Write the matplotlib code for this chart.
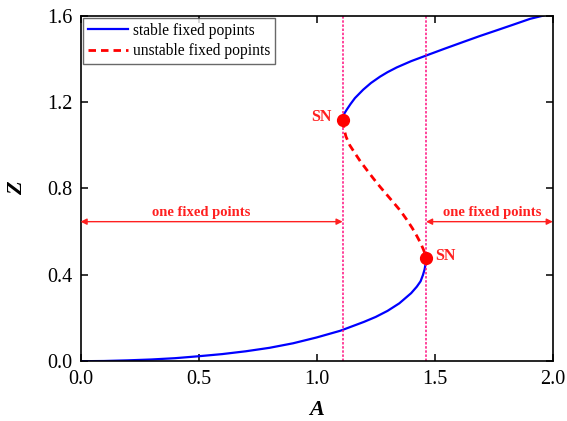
import matplotlib
matplotlib.use("Agg")
import matplotlib.pyplot as plt

plt.rcParams['font.family'] = ['Liberation Serif', 'DejaVu Serif']

# lower stable branch
A_low = [0.0, 0.1, 0.2, 0.3, 0.4, 0.5, 0.6, 0.7, 0.8, 0.9, 1.0, 1.1, 1.2, 1.25,
         1.3, 1.35, 1.4, 1.424, 1.44, 1.45, 1.457, 1.461, 1.463]
Z_low = [0.0, 0.001, 0.004, 0.008, 0.014, 0.023, 0.033, 0.046, 0.062, 0.083, 0.110,
         0.141, 0.182, 0.205, 0.233, 0.268, 0.315, 0.345, 0.370, 0.399, 0.425,
         0.450, 0.476]
# upper stable branch
A_up = [1.110, 1.112, 1.118, 1.127, 1.143, 1.162, 1.197, 1.230, 1.268, 1.300,
        1.339, 1.400, 1.466, 1.540, 1.621, 1.690, 1.763, 1.830, 1.904, 1.960]
Z_up = [1.115, 1.132, 1.148, 1.164, 1.190, 1.218, 1.257, 1.288, 1.317, 1.338,
        1.360, 1.389, 1.416, 1.446, 1.478, 1.505, 1.532, 1.557, 1.585, 1.600]
# unstable branch
A_un = [1.110, 1.116, 1.124, 1.140, 1.162, 1.185, 1.212, 1.240, 1.268, 1.296,
        1.325, 1.355, 1.381, 1.405, 1.424, 1.440, 1.452, 1.459, 1.463]
Z_un = [1.115, 1.075, 1.040, 1.000, 0.963, 0.925, 0.886, 0.846, 0.808, 0.772,
        0.735, 0.696, 0.656, 0.616, 0.580, 0.547, 0.517, 0.497, 0.476]
# saddle-node points
A_sn = [1.110, 1.463]
Z_sn = [1.115, 0.476]

fig = plt.figure(figsize=(5.67, 4.21), dpi=100)
ax = fig.add_axes([0.142, 0.142, 0.833, 0.821])

ax.plot(A_low, Z_low, color='#0000ff', lw=1.6, label='stable fixed popints')
ax.plot(A_up, Z_up, color='#0000ff', lw=1.6)
ax.plot(A_un, Z_un, color='#ff0000', lw=2.0, dashes=(2.7, 1.8),
        label='unstable fixed popints')
ax.plot(A_sn, Z_sn, 'o', color='#ff0000', ms=8.5, zorder=5)

for a in A_sn:
    ax.axvline(a, color='#ff1080', lw=1.1, ls=(0, (1.6, 1.1)))

red = '#ff2020'
ax.annotate('', xy=(0.0, 0.646), xytext=(A_sn[0], 0.646),
            arrowprops=dict(arrowstyle='<|-|>', color=red, lw=1.0,
                            mutation_scale=9, shrinkA=0, shrinkB=0))
ax.annotate('', xy=(A_sn[1], 0.646), xytext=(2.0, 0.646),
            arrowprops=dict(arrowstyle='<|-|>', color=red, lw=1.0,
                            mutation_scale=9, shrinkA=0, shrinkB=0))
ax.text(0.51, 0.688, 'one fixed points', color=red, fontsize=10.5,
        fontweight='bold', ha='center', va='center')
ax.text(1.744, 0.688, 'one fixed points', color=red, fontsize=10.5,
        fontweight='bold', ha='center', va='center')
ax.text(1.063, 1.129, 'SN', color=red, fontsize=11.5, fontweight='bold',
        ha='right', va='center')
ax.text(1.501, 0.487, 'SN', color=red, fontsize=11.5, fontweight='bold',
        ha='left', va='center')

ax.set_xlim(0, 2.0)
ax.set_ylim(0, 1.6)
ax.set_xticks([0.0, 0.5, 1.0, 1.5, 2.0])
ax.set_yticks([0.0, 0.4, 0.8, 1.2, 1.6])
ax.set_xticklabels(['0.0', '0.5', '1.0', '1.5', '2.0'])
ax.set_yticklabels(['0.0', '0.4', '0.8', '1.2', '1.6'])
ax.tick_params(direction='in', length=5, width=1.1, labelsize=14.5,
               top=True, right=True)
ax.tick_params(axis='x', pad=6)
ax.tick_params(axis='y', pad=6)
for s in ax.spines.values():
    s.set_linewidth(1.2)

ax.set_xlabel('A', fontsize=16, fontweight='bold', fontstyle='italic', labelpad=8)
ax.set_ylabel('Z', fontsize=16, fontweight='bold', fontstyle='italic', labelpad=14)

leg = ax.legend(loc='upper left', fontsize=11.2, fancybox=False,
                edgecolor='#444444', borderaxespad=0.15, handlelength=2.6,
                borderpad=0.3, labelspacing=0.3, handletextpad=0.3)
leg.get_frame().set_linewidth(1.0)

fig.savefig('out.png', dpi=100)
